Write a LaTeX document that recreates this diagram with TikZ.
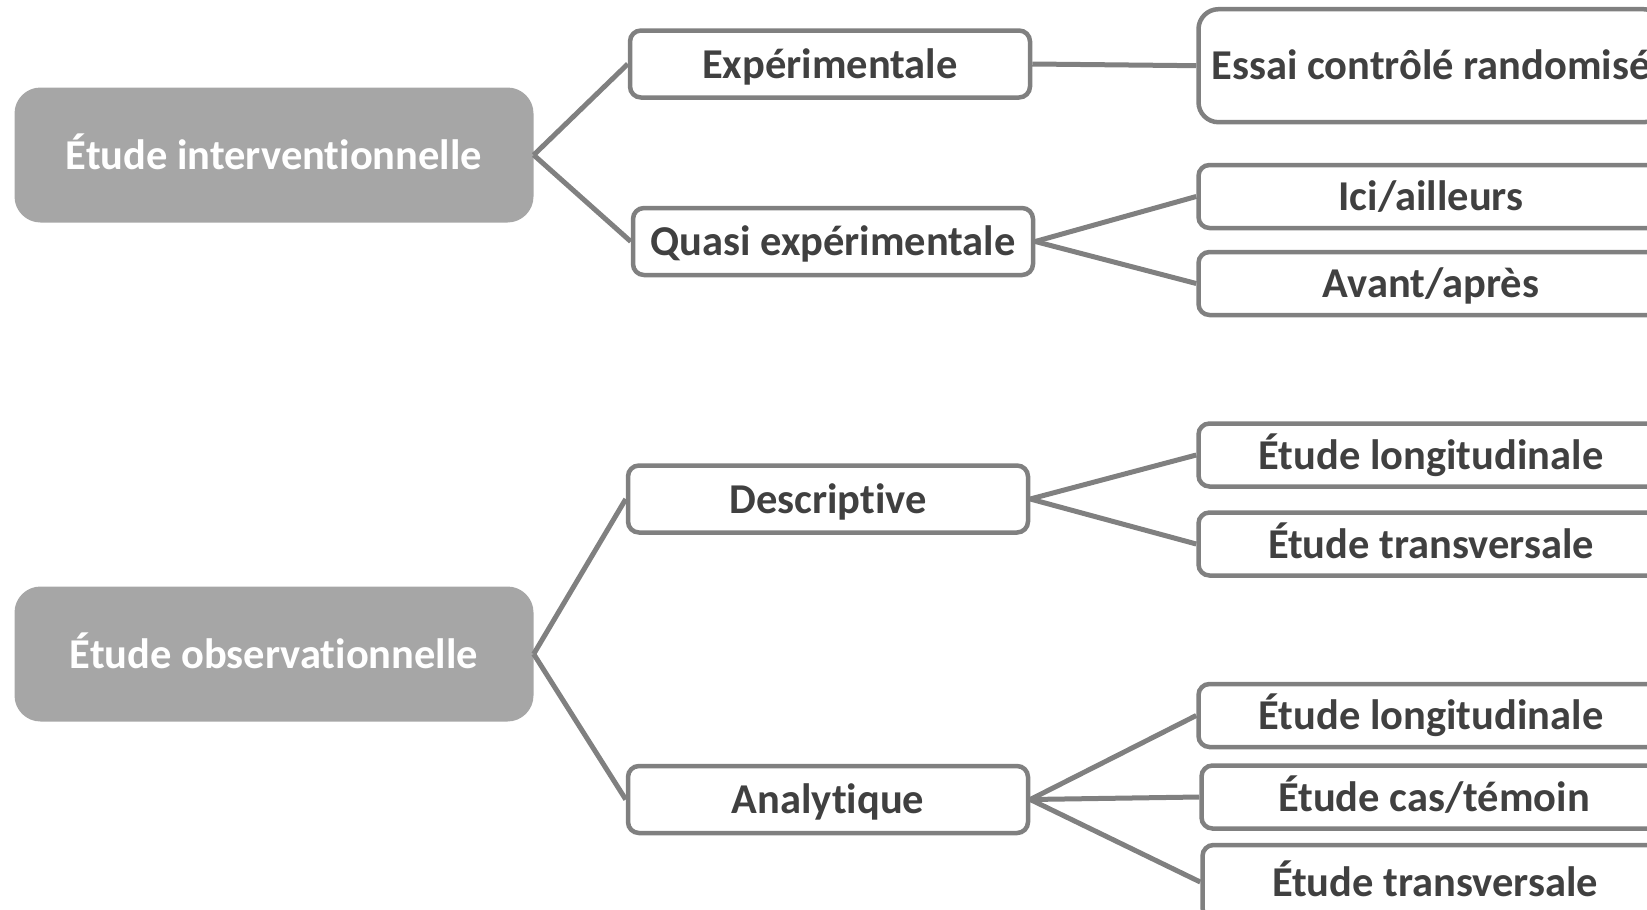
\documentclass[tikz,border=0pt]{standalone}
\usepackage{fontspec}
\setmainfont[Ligatures=NoCommon]{Carlito}
\definecolor{rootgray}{HTML}{A6A6A6}
\definecolor{linegray}{HTML}{808080}
\definecolor{txtgray}{HTML}{404040}
\begin{document}
\begin{tikzpicture}[x=1pt,y=-1pt,
    boxfont/.style={font=\fontsize{42.5}{50}\selectfont\bfseries, text height=38pt, text depth=10pt},
    root/.style={boxfont, fill=rootgray, text=white, rounded corners=26pt, minimum width=519pt, minimum height=135pt},
    kind/.style={boxfont, draw=linegray, line width=4.5pt, fill=white, text=txtgray, rounded corners=11pt, minimum width=400pt, minimum height=67pt, inner sep=0pt},
    leaf/.style={kind, minimum width=465pt, minimum height=63pt},
    link/.style={draw=linegray, line width=5pt}]
        \useasboundingbox (0,0) rectangle (1647,910);
        \clip (0,0) rectangle (1647,910);
        \node [root] (inter) at (274,155) {Étude interventionnelle};
        \node [root] (obs) at (274,654) {Étude observationnelle};
        \node [kind] (exp) at (830,64) {Expérimentale};
        \node [kind] (quasi) at (833,241.5) {Quasi expérimentale};
        \node [kind] (descr) at (828,499) {Descriptive};
        \node [kind] (analyt) at (828,799.5) {Analytique};
        \node [leaf, minimum height=113pt, rounded corners=20pt] (essai) at (1431,65.7) {Essai contrôlé randomisé};
        \node [leaf] (ici) at (1431,196.5) {Ici/ailleurs};
        \node [leaf] (avant) at (1431,283.5) {Avant/après};
        \node [leaf] (long1) at (1431,455) {Étude longitudinale};
        \node [leaf] (trans1) at (1431,544) {Étude transversale};
        \node [leaf] (long2) at (1431,715.5) {Étude longitudinale};
        \node [leaf] (cas) at (1434,797) {Étude cas/témoin};
        \node [leaf, minimum height=74pt] (trans2) at (1435,882) {Étude transversale};
        \draw [link] (inter.east) -- (exp.west);
        \draw [link] (inter.east) -- (quasi.west);
        \draw [link] (obs.east) -- (descr.west);
        \draw [link] (obs.east) -- (analyt.west);
        \draw [link] (exp.east) -- (essai.west);
        \draw [link] (quasi.east) -- (ici.west);
        \draw [link] (quasi.east) -- (avant.west);
        \draw [link] (descr.east) -- (long1.west);
        \draw [link] (descr.east) -- (trans1.west);
        \draw [link] (analyt.east) -- (long2.west);
        \draw [link] (analyt.east) -- (cas.west);
        \draw [link] (analyt.east) -- (trans2.west);
    \end{tikzpicture}
\end{document}
